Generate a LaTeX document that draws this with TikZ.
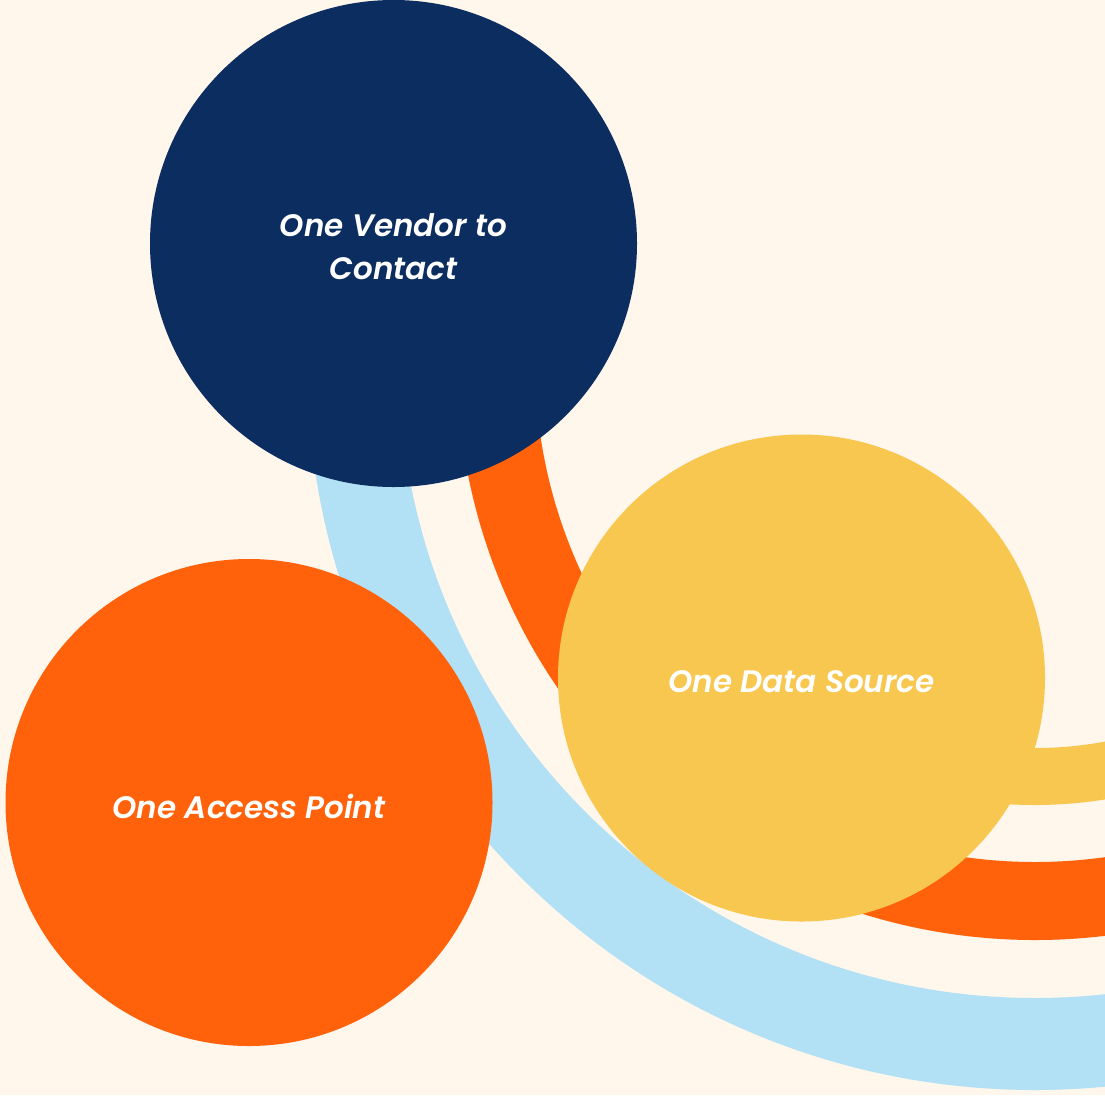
\documentclass[tikz,border=0pt]{standalone}
\usepackage{fontspec}
\newfontfamily\labelfont{Poppins}[UprightFont=* SemiBold Italic]
\usetikzlibrary{positioning}

\definecolor{cream}{HTML}{FFF6EC}
\definecolor{navy}{HTML}{0B2D5F}
\definecolor{flame}{HTML}{FF620B}
\definecolor{sun}{HTML}{F8C74F}
\definecolor{sky}{HTML}{B2E0F4}

\tikzset{
  bubble/.style={circle, minimum size=487pt, inner sep=0pt},
  caption/.style={text=white, align=center, inner sep=0pt,
    font=\labelfont\fontsize{31}{43}\selectfont},
  band/.style={line cap=butt},
}

\begin{document}
\begin{tikzpicture}[x=1pt, y=-1pt]
    \fill[cream] (0,0) rectangle (1105, 1095);
    \useasboundingbox (0,0) rectangle (1105, 1095);
    \clip (0,0) rectangle (1105, 1095);
    % bands round a common centre
    \coordinate (hub) at (1035, 362);
    \draw[band, sky, line width=92pt] ([shift={(180:682)}]hub) arc[start angle=180, end angle=0, radius=682];
    \draw[band, flame, line width=78pt] ([shift={(180:539)}]hub) arc[start angle=180, end angle=0, radius=539];
    \draw[band, sun, line width=57pt] ([shift={(110:414.5)}]hub) arc[start angle=110, end angle=0, radius=414.5];
    % bubbles
    \node[bubble, fill=navy] (vendor) at (393.5, 243.5) {};
    \node[bubble, fill=flame] (access) at (249, 802.5) {};
    \node[bubble, fill=sun] (data) at (801.5, 678) {};
    \node[caption] (vendortext) at ([yshift=-3pt]vendor.center) {One Vendor to\\Contact};
    \node[caption] (accesstext) at ([yshift=-4pt]access.center) {One Access Point};
    \node[caption] (datatext) at ([yshift=-4pt]data.center) {One Data Source};
\end{tikzpicture}
\end{document}
